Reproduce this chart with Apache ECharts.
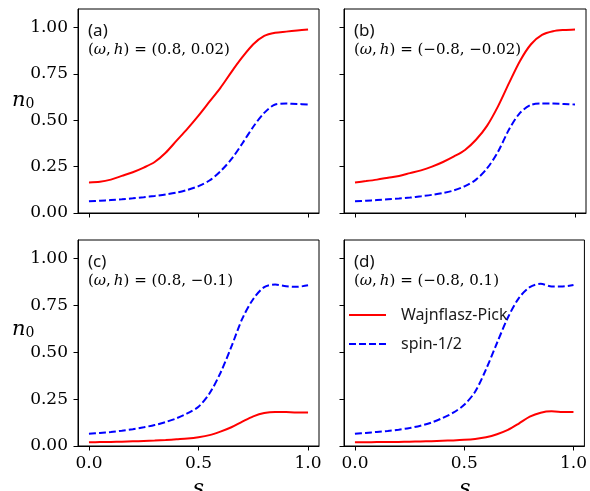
<!DOCTYPE html>
<html><head><meta charset="utf-8">
<script src="https://cdn.jsdelivr.net/npm/echarts@6/dist/echarts.min.js"></script>
<style>html,body{margin:0;padding:0;background:#fff}#c{width:590px;height:491px}</style>
</head><body><div id="c"></div>
<script>
// ---- data ----
const sValues = [0.00,0.05,0.10,0.15,0.20,0.25,0.30,0.35,0.40,0.45,0.50,0.55,0.60,0.65,0.70,0.75,0.80,0.85,0.90,0.95,1.00];
const xTicks = [0, 0.5, 1.0];
const yTicks = [0, 0.25, 0.5, 0.75, 1.0];
const panelTags = ['(a)', '(b)', '(c)', '(d)'];
const panelParams = ['(0.8, 0.02)', '(\u22120.8, \u22120.02)', '(0.8, \u22120.1)', '(\u22120.8, 0.1)'];
const seriesNames = ['Wajnflasz-Pick', 'spin-1/2'];
const wpA = [0.165,0.168,0.18,0.2,0.22,0.245,0.275,0.325,0.39,0.455,0.525,0.6,0.675,0.76,0.84,0.91,0.955,0.972,0.978,0.984,0.99];
const spA = [0.063,0.066,0.07,0.074,0.079,0.085,0.092,0.1,0.11,0.125,0.145,0.175,0.225,0.29,0.375,0.465,0.54,0.585,0.59,0.588,0.585];
const wpB = [0.165,0.172,0.18,0.19,0.2,0.215,0.23,0.25,0.275,0.305,0.34,0.395,0.47,0.575,0.7,0.82,0.91,0.96,0.98,0.987,0.99];
const spB = [0.063,0.066,0.07,0.074,0.078,0.083,0.09,0.098,0.108,0.122,0.145,0.18,0.24,0.33,0.45,0.54,0.583,0.59,0.59,0.588,0.585];
const wpC = [0.02,0.021,0.022,0.023,0.025,0.027,0.029,0.032,0.036,0.04,0.047,0.058,0.077,0.1,0.13,0.158,0.176,0.182,0.181,0.179,0.179];
const spC = [0.065,0.07,0.075,0.082,0.09,0.1,0.112,0.128,0.148,0.175,0.21,0.28,0.39,0.53,0.68,0.785,0.848,0.862,0.853,0.85,0.858];
const wpD = [0.02,0.02,0.021,0.021,0.022,0.023,0.024,0.026,0.028,0.03,0.033,0.038,0.047,0.063,0.086,0.12,0.157,0.178,0.185,0.182,0.181];
const spD = [0.065,0.07,0.075,0.08,0.087,0.096,0.108,0.125,0.149,0.178,0.22,0.29,0.41,0.55,0.686,0.79,0.848,0.866,0.852,0.852,0.86];

const wpAll = [wpA, wpB, wpC, wpD];
const spAll = [spA, spB, spC, spD];

// ---- layout ----
const grids = [
  {left: 78, top: 9, width: 241, height: 204},
  {left: 344, top: 9, width: 242, height: 204},
  {left: 78, top: 240, width: 241, height: 206},
  {left: 344, top: 240, width: 242, height: 206}
];
const SERIF = '"DejaVu Serif", serif';
const SANS = '"Noto Sans", "DejaVu Sans", sans-serif';

const chart = echarts.init(document.getElementById('c'), null, {renderer: 'canvas'});

const xAxes = [], yAxes = [], series = [], graphic = [];
grids.forEach((g, i) => {
  const showX = i >= 2, showY = i % 2 === 0;
  xAxes.push({
    type: 'value', gridIndex: i, min: -0.05, max: 1.05,
    axisLine: {show: true, onZero: false, lineStyle: {color: '#000', width: 1}},
    axisTick: {show: true, customValues: xTicks, length: 4.5, lineStyle: {color: '#000', width: 1}},
    axisLabel: {show: showX, customValues: xTicks, margin: 9, color: '#000', fontFamily: SERIF, fontSize: 17,
      formatter: v => v.toFixed(1)},
    splitLine: {show: false}
  });
  yAxes.push({
    type: 'value', gridIndex: i, min: 0, max: 1.1,
    axisLine: {show: true, onZero: false, lineStyle: {color: '#000', width: 1}},
    axisTick: {show: true, customValues: yTicks, length: 4.5, lineStyle: {color: '#000', width: 1}},
    axisLabel: {show: showY, customValues: yTicks, margin: 10, color: '#000', fontFamily: SERIF, fontSize: 17,
      formatter: v => v.toFixed(2)},
    splitLine: {show: false}
  });
  series.push({
    name: seriesNames[0], type: 'line', xAxisIndex: i, yAxisIndex: i,
    data: sValues.map((s, k) => [s, wpAll[i][k]]),
    symbol: 'none', smooth: 0.3,
    lineStyle: {color: '#ff0000', width: 2}, itemStyle: {color: '#ff0000'}, z: 3
  });
  series.push({
    name: seriesNames[1], type: 'line', xAxisIndex: i, yAxisIndex: i,
    data: sValues.map((s, k) => [s, spAll[i][k]]),
    symbol: 'none', smooth: 0.3,
    lineStyle: {color: '#0000ff', width: 2, type: [7, 3]}, itemStyle: {color: '#0000ff'}, z: 2
  });
  graphic.push({
    type: 'text', left: g.left + 10, top: g.top + 14,
    style: {text: panelTags[i], font: '17px ' + SANS, fill: '#111'}
  });
  graphic.push({
    type: 'text', left: g.left + 10, top: g.top + 34,
    style: {
      text: '{n|(}{i|\u03c9}{n|,\u2009}{i|h}{n|) = ' + panelParams[i] + '}',
      rich: {
        n: {fontFamily: SERIF, fontSize: 15, color: '#555'},
        i: {fontFamily: SERIF, fontSize: 15, fontStyle: 'italic', color: '#555'}
      }
    }
  });
  if (showY) {
    graphic.push({
      type: 'text', left: 12, top: g.top + (i === 0 ? 81 : 79),
      style: {
        text: '{n|n}{s|0}',
        rich: {
          n: {fontFamily: SERIF, fontSize: 21, fontStyle: 'italic', color: '#000'},
          s: {fontFamily: SERIF, fontSize: 14, color: '#000', verticalAlign: 'bottom', padding: [8, 0, 0, 0]}
        }
      }
    });
  }
  if (showX) {
    graphic.push({
      type: 'text', x: g.left + g.width / 2, y: 478,
      style: {text: 's', font: 'italic 22px ' + SERIF, fill: '#000', textAlign: 'center', textVerticalAlign: 'top'}
    });
  }
});

chart.setOption({
  animation: false,
  backgroundColor: '#fff',
  grid: grids.map(g => Object.assign({show: true, borderColor: '#000', borderWidth: 1, backgroundColor: 'transparent'}, g)),
  xAxis: xAxes,
  yAxis: yAxes,
  legend: {
    data: seriesNames, orient: 'vertical', left: 348, top: 307, padding: 0,
    itemWidth: 37, itemHeight: 14, itemGap: 13,
    itemStyle: {opacity: 0},
    textStyle: {fontFamily: SANS, fontSize: 16, color: '#1a1a1a', padding: [0, 0, 0, 10]},
    selectedMode: false
  },
  series: series,
  graphic: graphic
});
</script>
</body></html>
